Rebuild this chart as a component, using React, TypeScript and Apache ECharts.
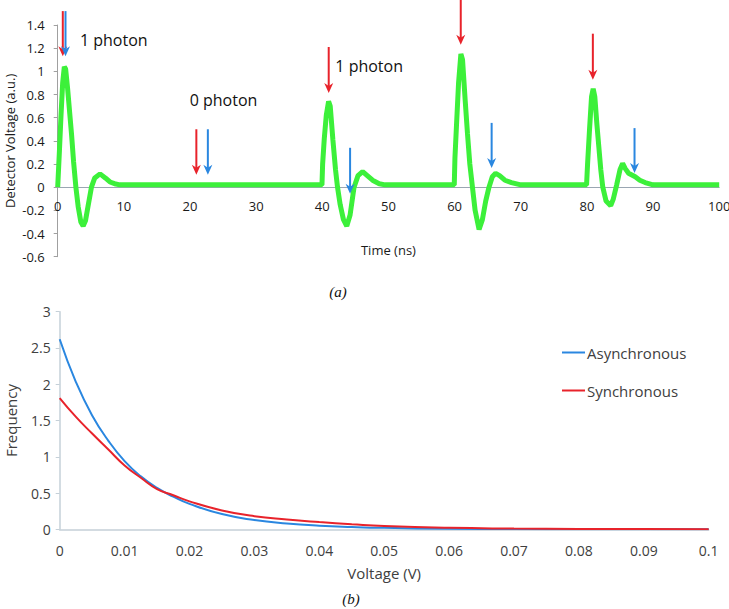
import React, { useEffect, useRef } from 'react';
import * as echarts from 'echarts';

// ---------- Panel (a): detector trace ----------
const pulse1T = [0, 0.25, 0.5, 0.75, 1.0, 1.2, 1.5, 1.8, 2.1, 2.4, 2.75, 3.1, 3.5, 3.85, 4.2, 4.6, 5.1, 5.6, 6.4, 7.2, 7.9, 8.6, 9.4];
const pulse1V = [0, 0.3, 0.62, 0.9, 1.04, 1.02, 0.85, 0.65, 0.45, 0.22, 0.0, -0.17, -0.3, -0.335, -0.29, -0.16, 0.0, 0.08, 0.115, 0.08, 0.045, 0.03, 0.02];
const base1T = [10, 12.5, 15, 17.5, 20, 22.5, 25, 27.5, 30, 32.5, 35, 37.5, 39.95];
const base1V = [0.02, 0.02, 0.02, 0.02, 0.02, 0.02, 0.02, 0.02, 0.02, 0.02, 0.02, 0.02, 0.02];
const pulse2T = [40.05, 40.3, 40.6, 40.95, 41.2, 41.6, 42.0, 42.3, 42.7, 43.2, 43.7, 44.2, 44.8, 45.4, 46.1, 46.8, 47.6, 48.6, 49.5];
const pulse2V = [0.2, 0.42, 0.62, 0.74, 0.7, 0.41, 0.15, 0.0, -0.15, -0.28, -0.335, -0.24, 0.0, 0.1, 0.135, 0.1, 0.06, 0.03, 0.02];
const base2T = [52.5, 55, 57.5, 59.95];
const base2V = [0.02, 0.02, 0.02, 0.02];
const pulse3T = [60.05, 60.3, 60.6, 60.95, 61.2, 61.6, 61.95, 62.3, 62.7, 63.1, 63.7, 64.2, 64.7, 65.2, 65.7, 66.2, 66.8, 67.6, 68.6, 70];
const pulse3V = [0.25, 0.55, 0.9, 1.15, 1.1, 0.75, 0.46, 0.2, 0.0, -0.2, -0.365, -0.28, -0.12, 0.0, 0.09, 0.12, 0.1, 0.06, 0.04, 0.02];
const base3T = [72.5, 75, 77.5, 79.95];
const base3V = [0.02, 0.02, 0.02, 0.02];
const pulse4T = [80.1, 80.4, 80.7, 80.95, 81.2, 81.5, 81.8, 82.1, 82.4, 82.9, 83.6, 84.0, 84.5, 85.0, 85.4, 85.8, 86.3, 87.3, 88.0, 88.8, 90];
const pulse4V = [0.2, 0.5, 0.78, 0.85, 0.78, 0.55, 0.35, 0.15, 0.0, -0.12, -0.16, -0.1, 0.02, 0.15, 0.205, 0.16, 0.12, 0.09, 0.06, 0.04, 0.02];
const base4T = [92.5, 95, 97.5, 100];
const base4V = [0.02, 0.02, 0.02, 0.02];

const arrowT = [0.77, 1.18, 20.96, 22.7, 40.97, 44.2, 60.93, 65.6, 80.9, 87.2];
const arrowTop = [1.52, 1.52, 0.5, 0.5, 1.21, 0.34, 1.62, 0.555, 1.325, 0.51];
const arrowTip = [1.13, 1.13, 0.108, 0.108, 0.813, -0.056, 1.23, 0.166, 0.928, 0.122];
const arrowKind = ['red', 'blue', 'red', 'blue', 'red', 'blue', 'red', 'blue', 'red', 'blue'];

const noteT = [3.36, 19.95, 41.97];
const noteV = [1.273, 0.755, 1.048];
const noteText = ['1 photon', '0 photon', '1 photon'];

// ---------- Panel (b): frequency distributions ----------
const voltage = [0, 0.0025, 0.005, 0.0075, 0.01, 0.0125, 0.015, 0.0175, 0.02, 0.025, 0.03, 0.035, 0.04, 0.045, 0.05, 0.06, 0.07, 0.08, 0.09, 0.1];
const asyncFreq = [2.62, 2.03, 1.57, 1.22, 0.94, 0.73, 0.57, 0.45, 0.35, 0.21, 0.128, 0.08, 0.05, 0.032, 0.02, 0.008, 0.003, 0.001, 0, 0];
const syncFreq = [1.81, 1.55, 1.32, 1.1, 0.88, 0.71, 0.555, 0.47, 0.385, 0.26, 0.18, 0.135, 0.1, 0.07, 0.045, 0.02, 0.01, 0.005, 0.003, 0.002];

const RED = '#e8232b';
const BLUE = '#2a87e0';
const GREEN = '#3cf03a';
const FONT = '"Open Sans", sans-serif';

const GRID_A = { left: 57.7, top: 25, width: 661.5, height: 231.7, outerBoundsMode: 'none', containLabel: false };
const GRID_B = { left: 59.7, top: 311.7, width: 649, height: 217.6, outerBoundsMode: 'none', containLabel: false };
const Y_MIN_A = -0.6;
const Y_MAX_A = 1.4;

export default function App() {
  const ref = useRef<HTMLDivElement>(null);
  useEffect(() => {
    if (!ref.current) return;
    const chart = echarts.init(ref.current, undefined, { renderer: 'svg' });
    const traceT = [...pulse1T, ...base1T, ...pulse2T, ...base2T, ...pulse3T, ...base3T, ...pulse4T, ...base4T];
    const traceV = [...pulse1V, ...base1V, ...pulse2V, ...base2V, ...pulse3V, ...base3V, ...pulse4V, ...base4V];
    const trace = traceT.map((t, i) => [t, traceV[i]]);
    // shift the time axis (line + labels) up to the zero level of the voltage axis
    const zeroOffset = -GRID_A.height * (0 - Y_MIN_A) / (Y_MAX_A - Y_MIN_A);

    chart.setOption({
      animation: false,
      textStyle: { fontFamily: FONT },
      grid: [GRID_A, GRID_B],
      xAxis: [
        {
          gridIndex: 0, type: 'value', min: 0, max: 100, interval: 10,
          offset: zeroOffset,
          axisLine: { onZero: false, lineStyle: { color: '#9aa6b2', width: 1 } },
          axisTick: { show: false },
          splitLine: { show: false },
          axisLabel: { color: '#1a1a1a', fontSize: 13, margin: 12, fontFamily: FONT },
          name: 'Time (ns)', nameLocation: 'middle', nameGap: 56,
          nameTextStyle: { color: '#1a1a1a', fontSize: 13, fontFamily: FONT },
        },
        {
          gridIndex: 1, type: 'value', min: 0, max: 0.1, interval: 0.01,
          axisLine: { lineStyle: { color: '#c5d0d8', width: 1.5 } },
          axisTick: { show: false },
          splitLine: { show: false },
          axisLabel: { color: '#404040', fontSize: 14, margin: 14, fontFamily: FONT },
          name: 'Voltage (V)', nameLocation: 'middle', nameGap: 36,
          nameTextStyle: { color: '#404040', fontSize: 15, fontFamily: FONT },
        },
      ],
      yAxis: [
        {
          gridIndex: 0, type: 'value', min: Y_MIN_A, max: Y_MAX_A, interval: 0.2,
          axisLine: { show: true, lineStyle: { color: '#a0a0a0', width: 1 } },
          axisTick: { show: true, length: 4, lineStyle: { color: '#a0a0a0' } },
          splitLine: { show: false },
          axisLabel: { color: '#1a1a1a', fontSize: 13, margin: 13, fontFamily: FONT },
          name: 'Detector Voltage (a.u.)', nameLocation: 'middle', nameGap: 41,
          nameMoveOverlap: false,
          nameTextStyle: { color: '#1a1a1a', fontSize: 13, fontFamily: FONT },
        },
        {
          gridIndex: 1, type: 'value', min: 0, max: 3, interval: 0.5,
          axisLine: { show: true, lineStyle: { color: '#c5d0d8', width: 1.5 } },
          axisTick: { show: true, length: 4, lineStyle: { color: '#c5d0d8' } },
          splitLine: { show: false },
          axisLabel: { color: '#404040', fontSize: 14, margin: 9, fontFamily: FONT },
          name: 'Frequency', nameLocation: 'middle', nameGap: 41,
          nameMoveOverlap: false,
          nameTextStyle: { color: '#404040', fontSize: 15, fontFamily: FONT },
        },
      ],
      legend: {
        data: ['Asynchronous', 'Synchronous'],
        orient: 'vertical', left: 557, top: 337,
        icon: 'rect',
        itemWidth: 23, itemHeight: 2, itemGap: 17,
        textStyle: { fontSize: 15, lineHeight: 21, color: '#404040', fontFamily: FONT, padding: [0, 0, 0, -3] },
      },
      series: [
        {
          type: 'line', xAxisIndex: 0, yAxisIndex: 0, data: trace,
          showSymbol: false, symbol: 'none',
          lineStyle: { color: GREEN, width: 5 }, itemStyle: { color: GREEN },
          silent: true,
        },
        {
          type: 'custom', xAxisIndex: 0, yAxisIndex: 0, silent: true,
          data: arrowT.map((t, i) => [t, arrowTop[i], arrowTip[i]]),
          encode: { x: 0, y: [1, 2] },
          renderItem: (params: any, api: any) => {
            const i = params.dataIndex;
            const p0 = api.coord([api.value(0), api.value(1)]);
            const p1 = api.coord([api.value(0), api.value(2)]);
            const color = arrowKind[i] === 'red' ? RED : BLUE;
            const x = p0[0];
            const yt = p1[1];
            return {
              type: 'group',
              children: [
                { type: 'line', shape: { x1: x, y1: p0[1], x2: x, y2: yt - 5 }, style: { stroke: color, lineWidth: 2 } },
                {
                  type: 'polygon',
                  shape: { points: [[x, yt], [x - 4.5, yt - 10], [x, yt - 7], [x + 4.5, yt - 10]] },
                  style: { fill: color },
                },
              ],
            };
          },
          z: 5,
        },
        {
          type: 'custom', xAxisIndex: 0, yAxisIndex: 0, silent: true,
          data: noteT.map((t, i) => [t, noteV[i]]),
          renderItem: (params: any, api: any) => {
            const p = api.coord([api.value(0), api.value(1)]);
            return {
              type: 'text', x: p[0], y: p[1],
              style: { text: noteText[params.dataIndex], fill: '#111', fontSize: 16, fontFamily: FONT, align: 'left', verticalAlign: 'middle' },
            };
          },
          z: 6,
        },
        {
          name: 'Asynchronous', type: 'line', xAxisIndex: 1, yAxisIndex: 1,
          data: voltage.map((v, i) => [v, asyncFreq[i]]),
          smooth: true, showSymbol: false, symbol: 'none',
          lineStyle: { color: BLUE, width: 2 }, itemStyle: { color: BLUE },
        },
        {
          name: 'Synchronous', type: 'line', xAxisIndex: 1, yAxisIndex: 1,
          data: voltage.map((v, i) => [v, syncFreq[i]]),
          smooth: true, showSymbol: false, symbol: 'none',
          lineStyle: { color: RED, width: 2 }, itemStyle: { color: RED },
        },
      ],
      graphic: [
        { type: 'text', x: 338, y: 292, style: { text: '(a)', fill: '#111', fontSize: 15, fontFamily: '"Liberation Serif", serif', fontStyle: 'italic', align: 'center', verticalAlign: 'middle' } },
        { type: 'text', x: 351, y: 599, style: { text: '(b)', fill: '#111', fontSize: 15, fontFamily: '"Liberation Serif", serif', fontStyle: 'italic', align: 'center', verticalAlign: 'middle' } },
      ],
    });
    return () => chart.dispose();
  }, []);
  return <div ref={ref} style={{ position: 'absolute', left: 0, top: 0, width: 729, height: 609 }} />;
}
